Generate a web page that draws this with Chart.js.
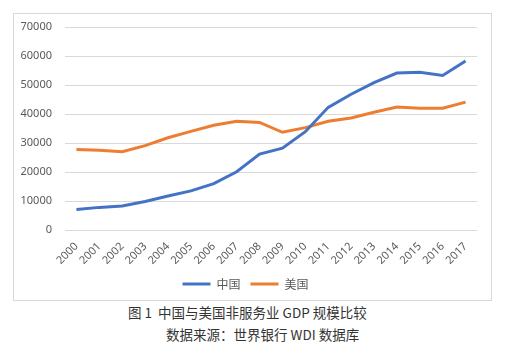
<!DOCTYPE html>
<html>
<head>
<meta charset="utf-8">
<script src="https://cdn.jsdelivr.net/npm/chart.js@4.4.0/dist/chart.umd.min.js"></script>
<style>
  body { margin: 0; background: #fff; width: 511px; height: 358px; position: relative; overflow: hidden; }
  #box { position: absolute; left: 13px; top: 13px; width: 477px; height: 286px; border: 1px solid #d9d9d9; }
  .cap { position: absolute; font-family: "Noto Sans CJK SC", sans-serif; font-size: 13.5px; color: #333; white-space: pre; line-height: 1; }
</style>
</head>
<body>
<div id="box"><canvas id="gdpChart" width="477" height="286"></canvas></div>
<div class="cap" style="left:128px; top:306px;">图 1  中国与美国非服务业 GDP 规模比较</div>
<div class="cap" style="left:166px; top:328px;">数据来源：世界银行 WDI 数据库</div>
<script>
const years = ['2000', '2001', '2002', '2003', '2004', '2005', '2006', '2007', '2008',
  '2009', '2010', '2011', '2012', '2013', '2014', '2015', '2016', '2017'];
const china = [7100, 7800, 8300, 9800, 11700, 13500, 16000, 20100, 26200,
  28200, 33900, 42300, 46800, 50800, 54100, 54400, 53300, 58300];
const usa = [27800, 27500, 27000, 29100, 31800, 34000, 36100, 37500, 37100,
  33700, 35300, 37500, 38600, 40600, 42400, 42000, 42000, 44100];
const yTicks = [0, 10000, 20000, 30000, 40000, 50000, 60000, 70000];

const FONT = '"Noto Sans", sans-serif';
const GREY = '#595959';

const ctx = document.getElementById('gdpChart').getContext('2d');
new Chart(ctx, {
  type: 'line',
  data: {
    labels: years,
    datasets: [
      { label: '中国', data: china, borderColor: '#4472C4', backgroundColor: '#4472C4', borderWidth: 3, pointRadius: 0, tension: 0 },
      { label: '美国', data: usa, borderColor: '#ED7D31', backgroundColor: '#ED7D31', borderWidth: 3, pointRadius: 0, tension: 0 }
    ]
  },
  options: {
    responsive: false,
    animation: false,
    layout: { padding: { left: 0, right: 14, top: 13, bottom: 0 } },
    plugins: {
      tooltip: { enabled: false },
      legend: {
        position: 'bottom',
        labels: {
          usePointStyle: true, pointStyle: 'line', pointStyleWidth: 28,
          color: GREY, font: { family: '"Noto Sans CJK SC", sans-serif', size: 12 }, padding: 10
        }
      }
    },
    scales: {
      x: {
        offset: true,
        grid: { display: false },
        border: { display: false },
        ticks: { color: GREY, font: { family: FONT, size: 11 }, maxRotation: 45, minRotation: 45, autoSkip: false, padding: 2 },
        // fixed sizes so the plot area lands where the original has it
        afterFit: s => { s.height = 38; s.paddingTop = 0; s.paddingBottom = 0; }
      },
      y: {
        min: 0, max: 70000,
        afterBuildTicks: s => { s.ticks = yTicks.map(v => ({ value: v })); },
        grid: { color: '#d9d9d9', lineWidth: 1, drawTicks: false },
        border: { display: false },
        ticks: { color: GREY, font: { family: FONT, size: 11 }, padding: 13, callback: v => String(v) },
        afterFit: s => { s.width = 51; s.paddingTop = 0; s.paddingBottom = 0; }
      }
    }
  }
});
</script>
</body>
</html>
